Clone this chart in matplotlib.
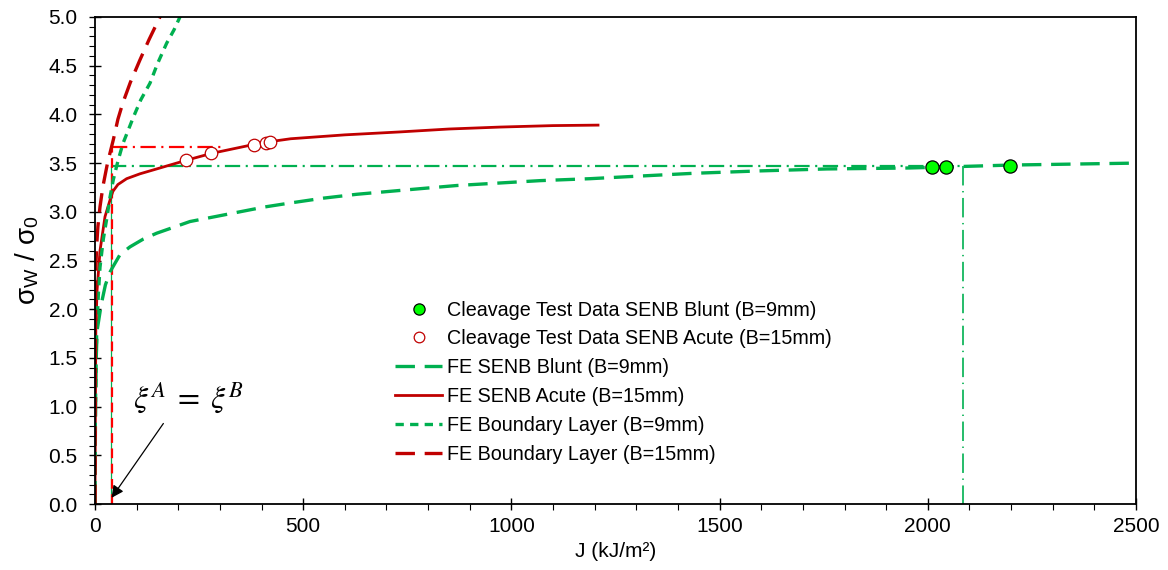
import matplotlib
matplotlib.use("Agg")
import matplotlib.pyplot as plt
from matplotlib.ticker import MultipleLocator

plt.rcParams['font.family'] = ['Liberation Sans', 'DejaVu Sans']
plt.rcParams['lines.scale_dashes'] = False
plt.rcParams['mathtext.fontset'] = 'stix'

# ---- data ----
blunt_J = [0, 1, 3, 5, 15, 25, 36, 41, 60, 84, 116, 148, 188, 228, 288, 348,
           408, 468, 548, 629, 708, 788, 869, 949, 1069, 1189, 1277, 1436,
           1597, 1758, 1957, 2200, 2500]
blunt_s = [0, 0.8, 1.5, 1.78, 2.05, 2.25, 2.38, 2.42, 2.56, 2.64, 2.72, 2.78,
           2.84, 2.90, 2.95, 3.00, 3.05, 3.09, 3.14, 3.18, 3.21, 3.24, 3.27,
           3.29, 3.32, 3.34, 3.36, 3.395, 3.42, 3.44, 3.45, 3.48, 3.50]

acute_J = [0, 1, 2, 5, 12, 24, 36, 43, 55, 76, 108, 148, 188, 220, 280, 380,
           420, 470, 600, 732, 850, 973, 1100, 1208]
acute_s = [0, 1.0, 1.8, 2.2, 2.6, 2.95, 3.12, 3.21, 3.28, 3.34, 3.39, 3.44,
           3.49, 3.53, 3.60, 3.69, 3.72, 3.75, 3.79, 3.82, 3.85, 3.87, 3.885,
           3.89]

bl9_J = [0, 1, 4, 8, 12, 20, 29, 36, 44, 55, 67, 80, 92, 110, 132, 150, 172,
         190, 204, 215]
bl9_s = [0, 1.0, 1.76, 2.15, 2.43, 2.72, 2.95, 3.15, 3.33, 3.52, 3.70, 3.84,
         3.97, 4.15, 4.32, 4.52, 4.73, 4.87, 5.0, 5.1]

bl15_J = [0, 0.5, 2, 4, 7, 12, 19, 30, 44, 55, 67, 85, 108, 130, 156, 165]
bl15_s = [0, 1.2, 2.43, 2.65, 2.85, 3.05, 3.26, 3.50, 3.74, 3.95, 4.12, 4.33,
          4.56, 4.77, 5.0, 5.1]

test_blunt_J = [2010, 2044, 2197]
test_blunt_s = [3.46, 3.46, 3.47]

test_acute_J = [218, 279, 382, 410, 420]
test_acute_s = [3.53, 3.60, 3.69, 3.71, 3.72]

# construction lines
xi_J_green = 39
xi_J_red = 41
sig_green = 3.47
sig_red = 3.665
J_green_end = 2084
J_red_end = 310

GREEN = '#00B050'
DRED = '#C00000'
RED = '#FF0000'

fig = plt.figure(figsize=(11.68, 5.70), dpi=100)
ax = fig.add_axes([95/1168, 1-504/570, (1136-95)/1168, (504-17)/570])

# construction lines
ax.plot([xi_J_green, J_green_end], [sig_green, sig_green], color=GREEN, lw=1.6,
        linestyle=(0, (11, 4, 1.5, 4)))
ax.plot([J_green_end, J_green_end], [sig_green, 0], color=GREEN, lw=1.2,
        linestyle=(0, (14, 4, 1, 4)))
ax.plot([xi_J_green, xi_J_green], [0, sig_green], color=GREEN, lw=0.9)
ax.plot([xi_J_red, J_red_end], [sig_red, sig_red], color=RED, lw=1.6,
        linestyle=(0, (11, 4, 1.5, 4)))
ax.plot([xi_J_red, xi_J_red], [0, sig_red], color=RED, lw=1.6,
        linestyle=(0, (7, 4)))

# curves
l_blunt, = ax.plot(blunt_J, blunt_s, color=GREEN, lw=2.4,
                   linestyle=(0, (14, 7)), label='FE SENB Blunt (B=9mm)')
l_acute, = ax.plot(acute_J, acute_s, color=DRED, lw=2.0,
                   label='FE SENB Acute (B=15mm)')
l_bl9, = ax.plot(bl9_J, bl9_s, color=GREEN, lw=2.4,
                 linestyle=(0, (6, 4.5)), label='FE Boundary Layer (B=9mm)')
l_bl15, = ax.plot(bl15_J, bl15_s, color=DRED, lw=2.4,
                  linestyle=(0, (14, 7)), label='FE Boundary Layer (B=15mm)')

m_blunt, = ax.plot(test_blunt_J, test_blunt_s, 'o', ms=9.5, mfc='#00FF00',
                   mec='black', mew=0.9, linestyle='none',
                   label='Cleavage Test Data SENB Blunt (B=9mm)', zorder=5)
m_acute, = ax.plot(test_acute_J, test_acute_s, 'o', ms=9, mfc='white',
                   mec=DRED, mew=0.9, linestyle='none',
                   label='Cleavage Test Data SENB Acute (B=15mm)', zorder=5)

ax.annotate('', xy=(36, 0.04), xytext=(168, 0.85),
            arrowprops=dict(arrowstyle='-|>', color='black', lw=0.9,
                            mutation_scale=18))
ax.text(225, 1.09, r'$\xi^{A}\;=\;\xi^{B}$', fontsize=23, ha='center',
        va='center')

ax.set_xlim(0, 2500)
ax.set_ylim(0, 5.0)
ax.xaxis.set_major_locator(MultipleLocator(500))
ax.xaxis.set_minor_locator(MultipleLocator(100))
ax.yaxis.set_major_locator(MultipleLocator(0.5))
ax.yaxis.set_minor_locator(MultipleLocator(0.1))
ax.yaxis.set_major_formatter(plt.FuncFormatter(lambda v, p: f'{v:.1f}'))
ax.tick_params(which='major', direction='inout', length=9, width=1.0,
               labelsize=15, pad=5)
ax.tick_params(axis='y', which='major', pad=8)
ax.tick_params(which='minor', direction='out', length=4, width=0.8)
for s in ax.spines.values():
    s.set_linewidth(1.3)

ax.set_xlabel('J (kJ/m²)', fontsize=15, labelpad=4)
ax.set_ylabel(r'σ$_\mathregular{W}$ / σ$_\mathregular{0}$', fontsize=20,
              labelpad=5)

handles = [m_blunt, m_acute, l_blunt, l_acute, l_bl9, l_bl15]
leg = ax.legend(handles=handles, loc='upper left',
                bbox_to_anchor=(395/1168, 1-300.5/570),
                bbox_transform=fig.transFigure, frameon=False, fontsize=14.2,
                handlelength=2.4, handletextpad=0.25, labelspacing=0.5,
                markerscale=0.85, borderaxespad=0, borderpad=0)

fig.savefig('out.png', dpi=100)
